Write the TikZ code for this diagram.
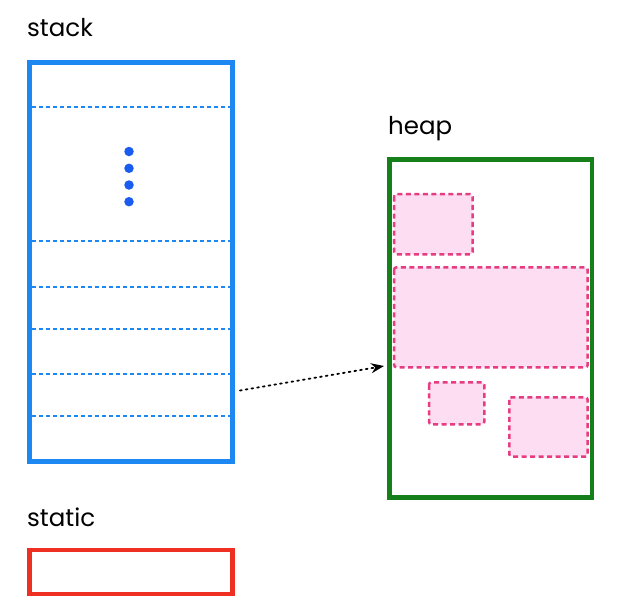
\documentclass[tikz,border=0pt]{standalone}
\usepackage{fontspec}
\setmainfont{Poppins}
\usetikzlibrary{arrows.meta}
\definecolor{stackblue}{HTML}{1E88F2}
\definecolor{dotblue}{HTML}{1A5CF0}
\definecolor{heapgreen}{HTML}{15801A}
\definecolor{staticred}{HTML}{EE3022}
\definecolor{pinkfill}{HTML}{FCDDF2}
\definecolor{pinkline}{HTML}{E63C82}
\begin{document}
\begin{tikzpicture}[x=1pt,y=-1pt,
  lbl/.style={anchor=base west,inner sep=0pt,font=\fontsize{24.5}{28}\selectfont},
  framebox/.style={line width=4.8pt},
  sep/.style={stackblue,line width=2.2pt,dash pattern=on 4pt off 3pt},
  chunk/.style={draw=pinkline,fill=pinkfill,line width=2.5pt,dash pattern=on 5pt off 3.5pt,rounded corners=2.5pt},
  blob/.style={circle,fill=dotblue,inner sep=0pt,minimum size=9.5pt}]
\useasboundingbox (0,0) rectangle (617,605);
% labels
\node[lbl] (stacklbl) at (27,36.5) {stack};
\node[lbl] (heaplbl) at (388,134.5) {heap};
\node[lbl] (staticlbl) at (27,526.5) {static};
% stack
\draw[framebox,stackblue] (29.5,62.5) rectangle (232.5,461.5);
\foreach \yy in {107,241,287,329,374,416}{
  \draw[sep] (32,\yy) -- (230,\yy);
}
\foreach \yy/\nm in {151.5/d1,168.3/d2,185/d3,201.7/d4}{
  \node[blob] (\nm) at (129,\yy) {};
}
% heap
\draw[framebox,heapgreen,line width=4.6pt] (389.7,159.7) rectangle (592,497.5);
\draw[chunk] (394,194) rectangle (472.7,254.3);
\draw[chunk] (394,267.3) rectangle (587.7,367.3);
\draw[chunk] (429,382.3) rectangle (484.3,424.3);
\draw[chunk] (509.3,397.3) rectangle (587.7,456.7);
% pointer
\coordinate (ptrstart) at (240,390.5);
\coordinate (ptrend) at (384,366);
\draw[line width=1.8pt,dash pattern=on 1.8pt off 4pt,line cap=round,-{Stealth[length=13pt,width=10pt]}] (ptrstart) -- (ptrend);
% static
\draw[framebox,staticred] (29.5,550) rectangle (232.5,594);
\end{tikzpicture}
\end{document}
